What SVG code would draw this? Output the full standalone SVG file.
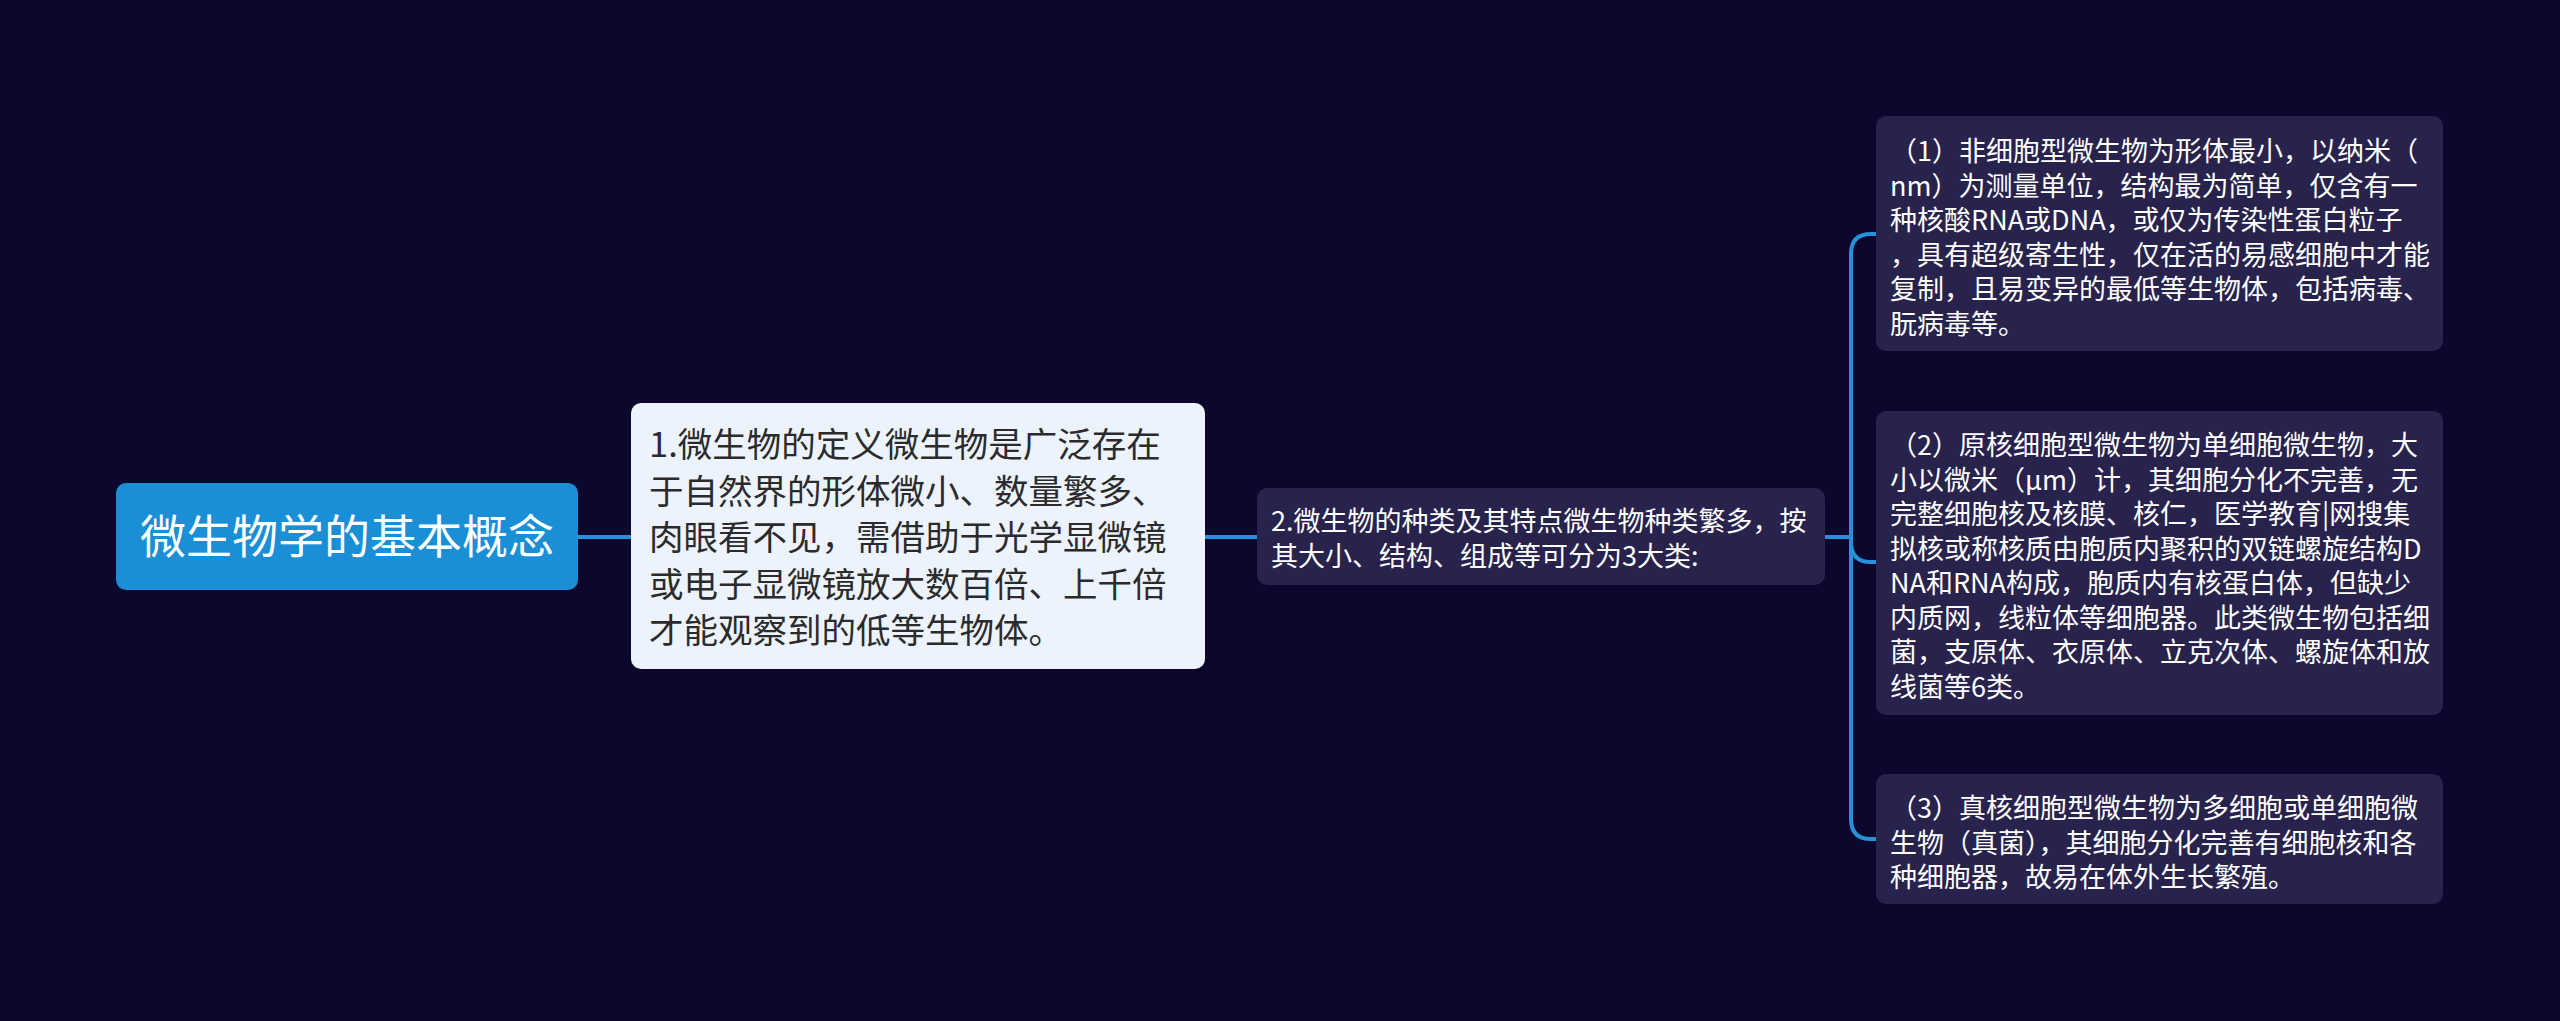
<svg xmlns="http://www.w3.org/2000/svg" width="2560" height="1021" viewBox="0 0 2560 1021">
<style>
.t{font-family:"Noto Sans CJK SC","Noto Sans",sans-serif;}
.root-t{font-size:46px;fill:#ffffff;}
.n1-t{font-size:34.5px;fill:#2b2b2b;}
.dk-t{font-size:27px;fill:#ffffff;}
.link{fill:none;stroke:#2690d8;stroke-width:4;stroke-linecap:round;}
.dk{fill:#28234c;}
</style>
<rect x="0" y="0" width="2560" height="1021" fill="#0c072c"/>
<g id="connectors">
<path class="link" d="M578 537 H631"/>
<path class="link" d="M1205 537 H1257"/>
<path class="link" d="M1825 537 H1851"/>
<path class="link" d="M1851 537 V254 Q1851 234 1871 234 H1876"/>
<path class="link" d="M1851 537 V542 Q1851 562 1871 562 H1876"/>
<path class="link" d="M1851 537 V819 Q1851 839 1871 839 H1876"/>
</g>
<g id="root">
<rect x="116" y="483" width="462" height="107" rx="10" fill="#1a8fd5"/>
<text class="t root-t" x="347" y="553" text-anchor="middle">微生物学的基本概念</text>
</g>
<g id="node1">
<rect x="631" y="403" width="574" height="266" rx="10" fill="#edf3fd"/>
<text class="t n1-t" x="649" y="457">1.微生物的定义微生物是广泛存在</text>
<text class="t n1-t" x="649" y="503.5">于自然界的形体微小、数量繁多、</text>
<text class="t n1-t" x="649" y="550">肉眼看不见，需借助于光学显微镜</text>
<text class="t n1-t" x="649" y="596.5">或电子显微镜放大数百倍、上千倍</text>
<text class="t n1-t" x="649" y="643">才能观察到的低等生物体。</text>
</g>
<g id="node2">
<rect class="dk" x="1257" y="488" width="568" height="97" rx="10"/>
<text class="t dk-t" x="1271" y="531">2.微生物的种类及其特点微生物种类繁多，按</text>
<text class="t dk-t" x="1271" y="565.5">其大小、结构、组成等可分为3大类:</text>
</g>
<g id="leaf1">
<rect class="dk" x="1876" y="116" width="567" height="235" rx="10"/>
<text class="t dk-t" x="1890" y="161">（1）非细胞型微生物为形体最小，以纳米（</text>
<text class="t dk-t" x="1890" y="195.5">nm）为测量单位，结构最为简单，仅含有一</text>
<text class="t dk-t" x="1890" y="230">种核酸RNA或DNA，或仅为传染性蛋白粒子</text>
<text class="t dk-t" x="1890" y="264.5">，具有超级寄生性，仅在活的易感细胞中才能</text>
<text class="t dk-t" x="1890" y="299">复制，且易变异的最低等生物体，包括病毒、</text>
<text class="t dk-t" x="1890" y="333.5">朊病毒等。</text>
</g>
<g id="leaf2">
<rect class="dk" x="1876" y="411" width="567" height="304" rx="10"/>
<text class="t dk-t" x="1890" y="455">（2）原核细胞型微生物为单细胞微生物，大</text>
<text class="t dk-t" x="1890" y="489.5">小以微米（μm）计，其细胞分化不完善，无</text>
<text class="t dk-t" x="1890" y="524">完整细胞核及核膜、核仁，医学教育|网搜集</text>
<text class="t dk-t" x="1890" y="558.5">拟核或称核质由胞质内聚积的双链螺旋结构D</text>
<text class="t dk-t" x="1890" y="593">NA和RNA构成，胞质内有核蛋白体，但缺少</text>
<text class="t dk-t" x="1890" y="627.5">内质网，线粒体等细胞器。此类微生物包括细</text>
<text class="t dk-t" x="1890" y="662">菌，支原体、衣原体、立克次体、螺旋体和放</text>
<text class="t dk-t" x="1890" y="696.5">线菌等6类。</text>
</g>
<g id="leaf3">
<rect class="dk" x="1876" y="774" width="567" height="130" rx="10"/>
<text class="t dk-t" x="1890" y="818">（3）真核细胞型微生物为多细胞或单细胞微</text>
<text class="t dk-t" x="1890" y="852.5">生物（真菌），其细胞分化完善有细胞核和各</text>
<text class="t dk-t" x="1890" y="887">种细胞器，故易在体外生长繁殖。</text>
</g>
</svg>
